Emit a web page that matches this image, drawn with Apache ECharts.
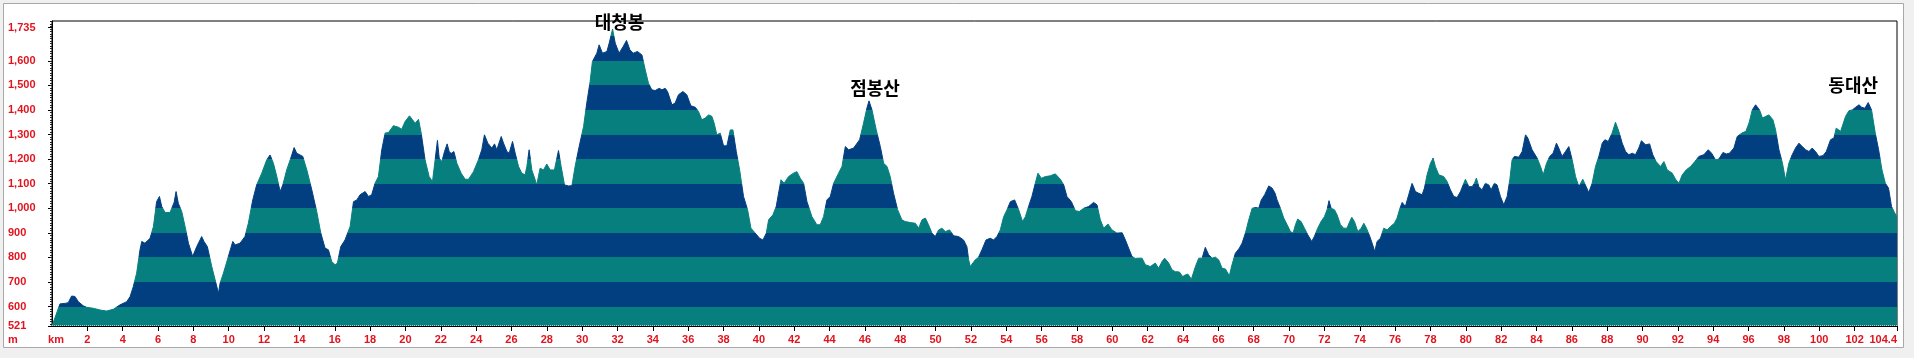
<!DOCTYPE html>
<html><head><meta charset="utf-8">
<script src="https://cdn.jsdelivr.net/npm/echarts@6/dist/echarts.min.js"></script>
<style>html,body{margin:0;padding:0;background:#f0f0f0;}#c{width:1914px;height:358px;}</style>
</head><body><div id="c"></div>
<script>
// ---- data ----
const kmValues = [
0,0.04,0.45,0.74,0.92,1.11,1.30,1.49,1.77,1.96,2.34,2.72,3.09,3.47,3.85,4.23,4.42,4.60,4.79,4.98,5.08,5.26,5.55,5.74,5.92,6.08,6.21,6.40,6.68,6.91,7.02,7.15,7.34,7.53,7.72,7.96,8.19,8.47,8.60,8.79,9.04,9.23,9.42,9.51,9.70,9.98,10.23,10.36,10.64,10.92,11.11,11.36,11.58,11.87,12.15,12.34,12.53,12.72,12.91,13.06,13.28,13.51,13.70,13.85,14.19,14.42,14.70,14.98,15.21,15.45,15.64,15.83,16.02,16.15,16.34,16.58,16.87,17.06,17.25,17.43,
17.72,17.91,18.09,18.28,18.47,18.66,18.85,19.04,19.32,19.60,19.79,19.98,20.23,20.40,20.55,20.74,20.89,21.11,21.34,21.53,21.68,21.81,21.91,22.06,22.21,22.36,22.49,22.62,22.74,22.91,23.15,23.38,23.57,23.85,24.13,24.32,24.47,24.66,24.89,25.04,25.17,25.42,25.55,25.74,25.87,26.06,26.21,26.40,26.58,26.77,26.87,27.00,27.15,27.34,27.43,27.62,27.81,28.00,28.19,28.43,28.66,28.81,29.00,29.23,29.42,29.60,29.83,30.08,30.26,30.45,30.58,30.83,30.96,31.15,31.40,31.53,31.72,31.87,32.09,32.32,32.51,32.70,32.89,33.13,33.38,33.57,33.75,33.94,34.13,34.36,34.51,34.70,
34.83,35.08,35.26,35.45,35.70,35.92,36.15,36.40,36.58,36.77,36.96,37.15,37.34,37.47,37.62,37.81,38.00,38.19,38.38,38.53,38.72,38.91,39.13,39.36,39.55,39.79,40.04,40.23,40.42,40.55,40.79,40.98,41.25,41.43,41.68,41.96,42.15,42.34,42.53,42.72,43.00,43.28,43.47,43.66,43.85,44.04,44.23,44.51,44.70,44.89,45.08,45.36,45.70,45.92,46.11,46.23,46.40,46.64,46.87,47.06,47.25,47.43,47.62,47.85,48.09,48.28,48.57,48.85,49.04,49.23,49.42,49.60,49.79,49.98,50.17,50.36,50.55,50.79,51.02,51.30,51.58,51.77,51.87,51.96,
52.02,52.24,52.43,52.62,52.85,53.09,53.28,53.47,53.66,53.85,54.04,54.23,54.47,54.70,54.92,55.08,55.26,55.45,55.64,55.79,55.98,56.21,56.49,56.77,57.06,57.25,57.43,57.68,57.91,58.13,58.38,58.66,58.94,59.13,59.32,59.51,59.75,59.98,60.26,60.55,60.74,60.92,61.11,61.30,61.49,61.68,61.87,62.15,62.43,62.62,62.81,62.96,63.19,63.38,63.57,63.79,63.98,64.13,64.28,64.47,64.70,64.89,65.08,65.26,65.45,65.64,65.83,66.02,66.21,66.40,66.49,66.62,66.77,66.96,67.19,67.34,67.53,67.72,67.91,68.13,68.28,68.43,68.62,68.85,69.04,69.21,
69.32,69.51,69.70,69.89,70.08,70.23,70.36,70.49,70.68,70.87,71.06,71.28,71.43,71.62,71.81,72.00,72.15,72.26,72.38,72.57,72.72,72.91,73.09,73.28,73.43,73.55,73.70,73.89,74.08,74.23,74.38,74.57,74.70,74.85,74.98,75.17,75.36,75.55,75.74,75.96,76.11,76.26,76.40,76.58,76.77,76.96,77.15,77.34,77.53,77.66,77.81,78.00,78.15,78.28,78.47,78.75,78.94,79.13,79.32,79.51,79.70,79.85,79.98,80.17,80.36,80.49,80.60,80.74,80.92,81.11,81.30,81.43,81.62,81.77,81.96,82.15,82.34,82.49,82.62,82.75,83.00,83.19,83.38,83.51,83.75,84.04,84.23,84.38,84.57,84.75,84.94,85.13,85.26,85.45,85.64,85.83,86.02,86.21,86.40,86.49,
86.62,86.81,86.96,87.15,87.34,87.53,87.72,87.87,88.06,88.28,88.47,88.66,88.85,89.04,89.23,89.42,89.60,89.79,89.94,90.17,90.40,90.58,90.77,91.02,91.21,91.40,91.68,91.87,92.06,92.25,92.47,92.72,92.96,93.19,93.47,93.72,93.91,94.13,94.32,94.55,94.74,94.92,95.17,95.36,95.62,95.85,96.04,96.21,96.40,96.62,96.79,96.98,97.15,97.38,97.53,97.72,97.92,98.09,98.28,98.47,98.66,98.85,99.04,99.23,99.42,99.60,99.79,99.98,100.21,100.40,100.64,100.83,100.96,101.21,101.49,101.68,101.87,102.06,102.25,102.40,102.58,102.77,102.96,103.17,103.36,103.55,103.74,103.92,104.09,104.26,104.40
];
const elevValues = [
521,525,611,613,616,643,641,620,603,597,593,586,582,589,607,620,641,681,736,831,865,858,878,926,1027,1048,1007,983,983,1024,1068,1020,987,926,858,804,844,885,865,844,763,709,654,695,736,804,865,851,858,885,939,1034,1095,1143,1197,1217,1183,1129,1068,1095,1156,1204,1247,1224,1211,1156,1075,987,899,838,831,783,770,777,844,871,926,1027,1034,1055,
1068,1048,1055,1102,1129,1238,1306,1308,1336,1330,1322,1353,1376,1360,1346,1362,1306,1197,1129,1109,1197,1276,1204,1190,1231,1262,1227,1224,1231,1183,1143,1118,1118,1149,1197,1238,1299,1265,1245,1262,1238,1292,1265,1231,1224,1272,1224,1170,1143,1136,1170,1238,1156,1116,1095,1163,1156,1180,1156,1156,1235,1170,1095,1091,1092,1170,1251,1333,1428,1516,1597,1631,1665,1631,1638,1672,1729,1672,1631,1658,1683,1645,1631,1638,1624,1563,1509,1482,1479,1488,1482,1488,
1475,1421,1428,1462,1475,1462,1417,1411,1394,1360,1367,1380,1374,1346,1299,1306,1254,1254,1319,1319,1231,1156,1048,994,919,899,878,871,899,953,973,1007,1116,1102,1129,1143,1149,1122,1102,1027,966,933,933,966,1034,1048,1102,1143,1170,1251,1238,1245,1279,1346,1407,1437,1400,1319,1251,1183,1170,1129,1061,994,953,946,942,939,919,953,960,933,899,885,912,919,905,912,888,885,871,844,790,763,
770,790,801,831,871,878,871,885,912,966,994,1027,1034,994,946,966,1007,1048,1102,1143,1122,1129,1132,1140,1118,1095,1048,1027,990,987,1000,1007,1024,1014,953,919,936,912,899,901,871,838,804,796,797,797,770,763,777,756,783,797,777,749,742,741,722,729,732,711,763,797,797,841,811,797,801,790,756,753,742,725,770,817,838,858,899,953,1000,1003,1000,1034,1055,1091,1082,1061,
1034,1000,960,933,905,899,933,956,946,919,892,865,885,919,946,966,994,1031,1000,994,973,933,919,919,946,963,946,905,919,939,919,885,858,824,865,878,919,912,926,939,960,997,1024,1007,1055,1102,1068,1061,1055,1082,1136,1183,1204,1170,1136,1129,1109,1075,1048,1044,1068,1095,1118,1088,1088,1102,1123,1088,1075,1102,1095,1075,1102,1095,1048,1014,1048,1116,1197,1211,1208,1231,1299,1286,1238,1204,1170,1136,1183,1211,1224,1265,1245,1211,1231,1251,1197,1129,1088,1095,
1118,1088,1064,1102,1170,1211,1265,1279,1272,1306,1350,1313,1265,1231,1218,1224,1218,1245,1275,1258,1262,1218,1190,1170,1190,1156,1143,1118,1102,1136,1156,1170,1190,1211,1218,1238,1224,1197,1200,1227,1221,1224,1245,1292,1306,1313,1350,1400,1421,1400,1367,1374,1380,1360,1319,1238,1183,1116,1183,1218,1245,1265,1251,1238,1231,1245,1231,1211,1214,1231,1279,1286,1326,1313,1374,1397,1400,1411,1421,1411,1407,1430,1400,1306,1238,1156,1102,1082,1007,983,964
];
const yTickValues = [521,600,700,800,900,1000,1100,1200,1300,1400,1500,1600,1735];
const xTickValues = [2,4,6,8,10,12,14,16,18,20,22,24,26,28,30,32,34,36,38,40,42,44,46,48,50,52,54,56,58,60,62,64,66,68,70,72,74,76,78,80,82,84,86,88,90,92,94,96,98,100,102,104.4];
const peakNames = ['대청봉','점봉산','동대산'];
const peakKm = [31.72, 46.23, 102.77];
const peakLabelOffsets = [[7,-7],[6,-13],[-15,-17]];

// ---- style ----
const TEAL = '#077f7e', NAVY = '#023f80', RED = '#e0141e';
const LABEL_FONT = {color: RED, fontFamily: 'Liberation Sans, Arial, sans-serif', fontWeight: 'bold', fontSize: 11};

const pieces = [];
for (let h = 500; h < 1800; h += 100) {
  pieces.push({gte: h, lt: h + 100, color: ((h / 100) % 2 === 1) ? TEAL : NAVY});
}
const profile = kmValues.map((k, i) => [k, elevValues[i]]);
const peakMarks = peakNames.map((n, i) => {
  const idx = kmValues.indexOf(peakKm[i]);
  return {name: n, coord: [peakKm[i], elevValues[idx]], label: {offset: peakLabelOffsets[i]}};
});
const minorTicks = [];
for (let v = 530; v <= 1760; v += 10) minorTicks.push(v);

const chart = echarts.init(document.getElementById('c'), null, {renderer: 'canvas'});
chart.setOption({
  animation: false,
  backgroundColor: '#f0f0f0',
  graphic: [
    {type: 'rect', z: -10, shape: {x: 3.5, y: 3.5, width: 1900, height: 344}, style: {fill: '#ffffff', stroke: '#a8a8a8', lineWidth: 1}},
    {type: 'text', z: 10, style: {text: 'm', x: 8, y: 340, verticalAlign: 'middle', fill: RED, font: 'bold 11px "Liberation Sans", Arial, sans-serif'}},
    {type: 'text', z: 10, style: {text: 'km', x: 56, y: 340, align: 'center', verticalAlign: 'middle', fill: RED, font: 'bold 11px "Liberation Sans", Arial, sans-serif'}}
  ],
  grid: {left: 52, right: 17, top: 21, bottom: 32, show: true, borderColor: '#000', borderWidth: 1, backgroundColor: '#fff'},
  visualMap: {show: false, type: 'piecewise', dimension: 1, seriesIndex: 0, pieces: pieces},
  xAxis: {
    type: 'value', min: 0, max: 104.4,
    axisLine: {lineStyle: {color: '#000', width: 1}},
    axisTick: {customValues: xTickValues, length: 5, lineStyle: {color: '#000'}},
    axisLabel: Object.assign({customValues: xTickValues, margin: 8, alignMaxLabel: 'right', formatter: v => String(v)}, LABEL_FONT),
    splitLine: {show: false}
  },
  yAxis: [{
    type: 'value', min: 521, max: 1762,
    axisLine: {show: true, lineStyle: {color: '#000', width: 1}},
    axisTick: {show: true, customValues: yTickValues, length: 4, lineStyle: {color: '#000'}},
    axisLabel: Object.assign({customValues: yTickValues, margin: 44, align: 'left',
      formatter: v => Number(v).toLocaleString('en-US')}, LABEL_FONT),
    splitLine: {show: false}
  }, {
    type: 'value', min: 521, max: 1762, position: 'left',
    axisLine: {show: false},
    axisTick: {show: true, customValues: minorTicks, length: 2, lineStyle: {color: '#222'}},
    axisLabel: {show: false},
    splitLine: {show: false}
  }],
  series: [{
    type: 'line', data: profile, symbol: 'none', smooth: false,
    lineStyle: {width: 1},
    areaStyle: {opacity: 1, origin: 'start'},
    markPoint: {
      symbol: 'circle', symbolSize: 0, silent: true,
      label: {show: true, position: 'inside', formatter: '{b}', color: '#000', fontWeight: 'bold', fontSize: 18,
        fontFamily: '"Noto Sans CJK KR", sans-serif'},
      data: peakMarks
    },
    markLine: {
      silent: true, symbol: 'none', label: {show: false},
      lineStyle: {type: 'dotted', color: '#b8cccc', width: 1},
      data: [{yAxis: 524}]
    }
  }]
});
</script></body></html>
